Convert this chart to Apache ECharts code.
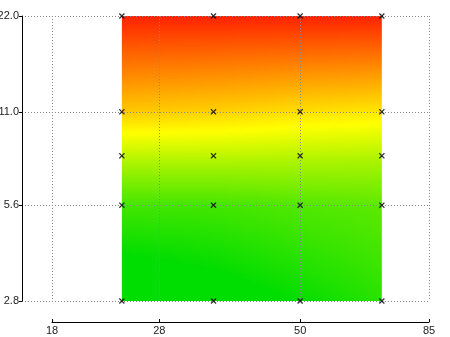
<!DOCTYPE html>
<html>
<head>
<meta charset="utf-8">
<script src="https://cdn.jsdelivr.net/npm/echarts@6/dist/echarts.min.js"></script>
<style>html,body{margin:0;padding:0;background:#fff}#c{width:450px;height:337px}</style>
</head>
<body>
<div id="c"></div>
<script>
// ---- data ----
const xValues = [24, 35, 50, 70];
const yValues = [2.8, 5.6, 8, 11, 22];
// colour value at each node (rows follow yValues, columns follow xValues)
// 0 = green, 50 = yellow, 100 = red
const zAt2_8 = [-12, -6, 1, 8];
const zAt5_6 = [13, 13, 16, 18];
const zAt8 = [37, 37, 36, 35];
const zAt11 = [62, 60, 57, 55];
const zAt22 = [100, 100, 100, 100];
const xTicks = [18, 28, 50, 85];
const yTicks = [2.8, 5.6, 11, 22];

const zGrid = [zAt2_8, zAt5_6, zAt8, zAt11, zAt22];

const GREEN = [0, 221, 0], YELLOW = [255, 255, 0], RED = [255, 34, 0];
function mix(a, b, t) { return [0,1,2].map(k => Math.round(a[k] + (b[k] - a[k]) * t)); }
function colorOf(z) {
  let c;
  if (z <= 0) c = GREEN;
  else if (z < 50) c = mix(GREEN, YELLOW, z / 50);
  else if (z < 100) c = mix(YELLOW, RED, (z - 50) / 50);
  else c = RED;
  return 'rgb(' + c.join(',') + ')';
}

const cells = [];
for (let j = 0; j < yValues.length - 1; j++)
  for (let i = 0; i < xValues.length - 1; i++)
    cells.push([xValues[i], yValues[j], i, j]);

const points = [];
yValues.forEach(y => xValues.forEach(x => points.push([x, y])));

function renderCell(params, api) {
  const i = api.value(2), j = api.value(3);
  const pA = api.coord([xValues[i], yValues[j]]);
  const pB = api.coord([xValues[i + 1], yValues[j + 1]]);
  const x0 = pA[0], x1 = pB[0], yb = pA[1], yt = pB[1];
  const z00 = zGrid[j][i], z10 = zGrid[j][i + 1], z01 = zGrid[j + 1][i], z11 = zGrid[j + 1][i + 1];
  const n = Math.max(1, Math.ceil((x1 - x0) / 2));
  const w = (x1 - x0) / n;
  const K = 24;
  const lastCol = i === xValues.length - 2;
  const children = [];
  for (let s = 0; s < n; s++) {
    const u = (s + 0.5) / n;
    const zb = z00 + (z10 - z00) * u;
    const zt = z01 + (z11 - z01) * u;
    const stops = [];
    for (let k = 0; k <= K; k++) {
      const t = k / K;
      stops.push({ offset: t, color: colorOf(zt + (zb - zt) * t) });
    }
    const extra = (s === n - 1 && lastCol) ? 0 : 1;
    children.push({
      type: 'rect',
      shape: { x: x0 + s * w, y: yt, width: w + extra, height: yb - yt + (j > 0 ? 1 : 0) },
      style: { fill: new echarts.graphic.LinearGradient(0, 0, 0, 1, stops) },
      silent: true
    });
  }
  return { type: 'group', children };
}

const chart = echarts.init(document.getElementById('c'), null, { renderer: 'canvas' });
const FONT = 'Liberation Sans, Arial, sans-serif';
const gridLine = { show: true, lineStyle: { color: '#8a8a8a', width: 1, type: [1, 2] } };
const xMin0 = 85 * Math.pow(18 / 85, 407 / 377);

chart.setOption({
  animation: false,
  backgroundColor: '#fff',
  grid: [
    { left: 22, right: 21, top: 16, bottom: 36, containLabel: false, outerBoundsMode: 'none' },
    { left: 52, right: 21, top: 16, bottom: 36, containLabel: false, outerBoundsMode: 'none' }
  ],
  xAxis: [
    {
      type: 'log', gridIndex: 0, min: xMin0, max: 85, z: 3,
      axisLine: { show: false },
      axisTick: { show: false, customValues: xTicks },
      axisLabel: { show: false, customValues: xTicks },
      splitLine: gridLine
    },
    {
      type: 'log', gridIndex: 1, min: 18, max: 85, offset: 21, position: 'bottom',
      axisLine: { show: true, onZero: false, lineStyle: { color: '#000', width: 1 } },
      axisTick: { show: true, inside: true, length: 3, customValues: xTicks, lineStyle: { color: '#000' } },
      axisLabel: { show: true, customValues: xTicks, margin: 3, color: '#222', fontSize: 11, fontFamily: FONT,
                   formatter: v => String(Math.round(v)) },
      splitLine: { show: false }
    }
  ],
  yAxis: [
    {
      type: 'log', gridIndex: 0, min: 2.8, max: 22, z: 3,
      axisLine: { show: true, onZero: false, lineStyle: { color: '#000', width: 1 } },
      axisTick: { show: true, length: 3, customValues: yTicks, lineStyle: { color: '#000' } },
      axisLabel: { show: true, customValues: yTicks, margin: 3, color: '#222', fontSize: 11, fontFamily: FONT,
                   formatter: v => Number(v).toFixed(1) },
      splitLine: gridLine
    },
    { type: 'value', gridIndex: 1, show: false }
  ],
  series: [
    {
      type: 'custom', xAxisIndex: 0, yAxisIndex: 0, z: 1,
      renderItem: renderCell,
      encode: { x: 0, y: 1 },
      data: cells,
      silent: true
    },
    {
      type: 'scatter', xAxisIndex: 0, yAxisIndex: 0, z: 5,
      symbol: 'path://M0,1.5L1.5,0L5,3.5L8.5,0L10,1.5L6.5,5L10,8.5L8.5,10L5,6.5L1.5,10L0,8.5L3.5,5Z',
      symbolSize: 6,
      itemStyle: { color: '#000' },
      data: points,
      silent: true
    }
  ]
});
</script>
</body>
</html>
